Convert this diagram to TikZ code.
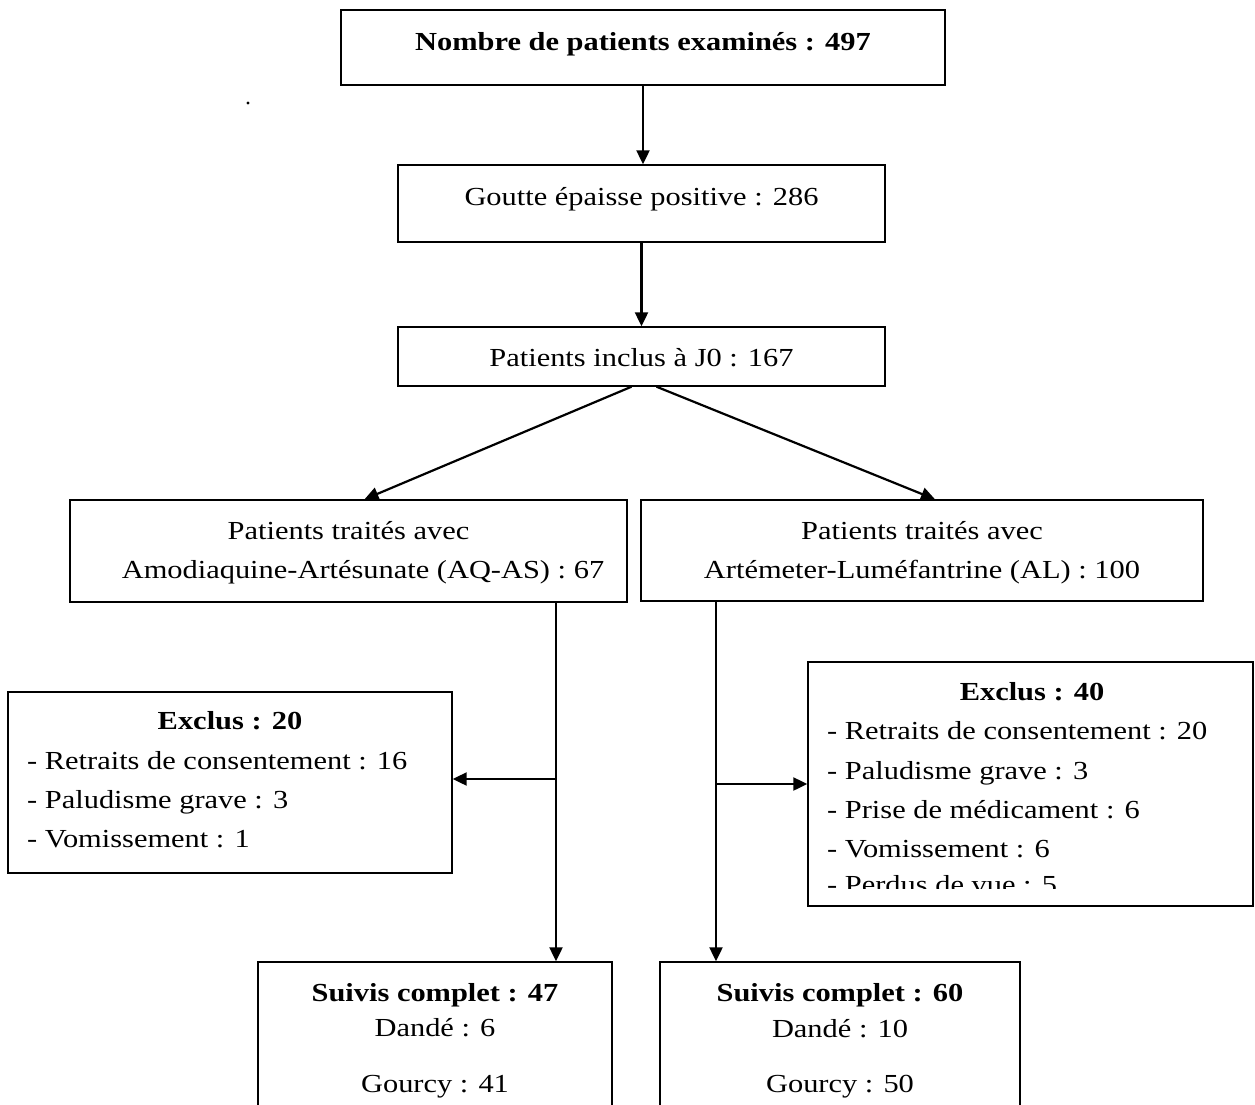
\documentclass[tikz,border=0pt]{standalone}
\usepackage{fontspec}
\setmainfont{Liberation Serif}[FakeStretch=1.17]
\usetikzlibrary{arrows.meta}
\begin{document}
\begin{tikzpicture}[x=1pt,y=-1pt,
  every node/.style={font=\fontsize{26}{39}\selectfont, inner sep=0pt},
  box/.style={draw, line width=1.4pt, rectangle},
  txt/.style={anchor=base},
  ltxt/.style={anchor=base west},
  arr/.style={line width=2.2pt, -{Triangle[length=14pt,width=13pt]}}
]
\clip (0,0) rectangle (1255,1105);
\fill[white] (0,0) rectangle (1255,1105);

% boxes
\node[box, minimum width=604pt, minimum height=75pt] (b1) at (643,47.5) {};
\node[box, minimum width=487pt, minimum height=77pt] (b2) at (641.5,203.5) {};
\node[box, minimum width=487pt, minimum height=59pt] (b3) at (641.5,356.5) {};
\node[box, minimum width=557pt, minimum height=102pt] (b4) at (348.5,551) {};
\node[box, minimum width=562pt, minimum height=101pt] (b5) at (922,550.5) {};
\node[box, minimum width=444pt, minimum height=181pt] (b7) at (230,782.5) {};
\node[box, minimum width=445pt, minimum height=244pt] (b8) at (1030.5,784) {};
\node[box, minimum width=354pt, minimum height=180pt] (b6) at (435,1052) {};
\node[box, minimum width=360pt, minimum height=180pt] (b9) at (840,1052) {};

% texts
\node[txt] (t1) at (643,51) {\textbf{Nombre de patients examinés : 497}};
\node[txt] (t2) at (641.5,205) {Goutte épaisse positive : 286};
\node[txt] (t3) at (641.5,366) {Patients inclus à J0 : 167};
\node[txt] (t4a) at (348.5,539) {Patients traités avec};
\node[txt] (t4b) at (363,578) {Amodiaquine-Artésunate (AQ-AS) : 67};
\node[txt] (t5a) at (922,539) {Patients traités avec};
\node[txt] (t5b) at (922,578) {Artémeter-Luméfantrine (AL) : 100};

\node[txt] (t7) at (230,729) {\textbf{Exclus : 20}};
\node[ltxt] (t7a) at (27,769) {- Retraits de consentement : 16};
\node[ltxt] (t7b) at (27,808) {- Paludisme grave : 3};
\node[ltxt] (t7c) at (27,847) {- Vomissement : 1};

\node[txt] (t8) at (1032,700) {\textbf{Exclus : 40}};
\node[ltxt] (t8a) at (827,739) {- Retraits de consentement : 20};
\node[ltxt] (t8b) at (827,779) {- Paludisme grave : 3};
\node[ltxt] (t8c) at (827,818) {- Prise de médicament : 6};
\node[ltxt] (t8d) at (827,857) {- Vomissement : 6};
\begin{scope}
\clip (b8.north west) rectangle ([yshift=18pt]b8.south east);
\node[ltxt] (t8e) at (827,893) {- Perdus de vue : 5};
\end{scope}

\node[txt] (t6) at (435,1001) {\textbf{Suivis complet : 47}};
\node[txt] (t6a) at (435,1036) {Dandé : 6};
\node[txt] (t6b) at (435,1092) {Gourcy : 41};
\node[txt] (t9) at (840,1001) {\textbf{Suivis complet : 60}};
\node[txt] (t9a) at (840,1037) {Dandé : 10};
\node[txt] (t9b) at (840,1092) {Gourcy : 50};

% stray dot
\fill (248,103) circle (1.6pt);

% connectors
\draw[arr] (b1.south) -- (b1.south |- b2.north);
\draw[arr] (b2.south) -- (b2.south |- b3.north);
\draw[arr] ([xshift=-10pt]b3.south) -- ([xshift=16pt]b4.north);
\draw[arr] ([xshift=15pt]b3.south) -- ([xshift=13pt]b5.north);

\coordinate (lt) at (556,602);
\coordinate (jl) at (556,779);
\draw[arr] (lt) -- (lt |- b6.north);
\draw[arr] (jl) -- (jl -| b7.east);

\coordinate (rt) at (716,601);
\coordinate (jr) at (716,784);
\draw[arr] (rt) -- (rt |- b9.north);
\draw[arr] (jr) -- (jr -| b8.west);
\end{tikzpicture}
\end{document}
